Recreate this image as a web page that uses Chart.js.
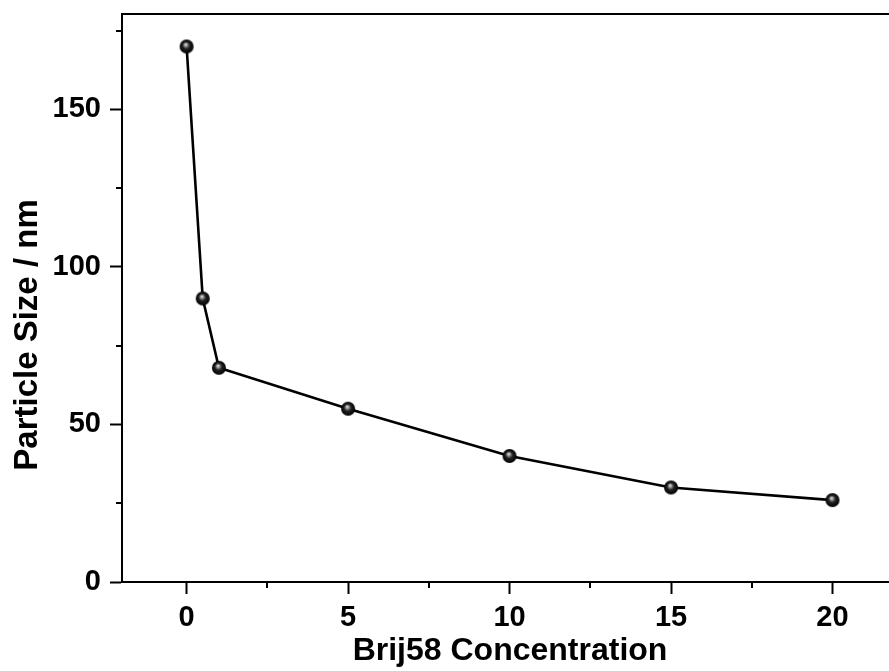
<!DOCTYPE html>
<html>
<head>
<meta charset="utf-8">
<script src="https://cdn.jsdelivr.net/npm/chart.js@4"></script>
<style>
  html, body { margin: 0; padding: 0; background: #fff; overflow: hidden; }
  #wrap { width: 889px; height: 671px; }
</style>
</head>
<body>
<div id="wrap"><canvas id="sizeChart" width="889" height="671"></canvas></div>
<script>
// Data
const concentration = [0, 0.5, 1, 5, 10, 15, 20];
const particleSize = [170, 90, 68, 55, 40, 30, 26];

// Axis ticks
const xMajorTicks = [0, 5, 10, 15, 20];
const xMinorTicks = [2.5, 7.5, 12.5, 17.5];
const yMajorTicks = [0, 50, 100, 150];
const yMinorTicks = [25, 75, 125, 175];

const xTitle = 'Brij58 Concentration';
const yTitle = 'Particle Size / nm';

const FONT = '"Liberation Sans", Arial, sans-serif';

// Shaded sphere used as the point marker
function makeSphere(r) {
    const c = document.createElement('canvas');
    const s = Math.ceil(r * 2 + 2);
    c.width = s;
    c.height = s;
    const g = c.getContext('2d');
    const cx = s / 2, cy = s / 2;
    const grad = g.createRadialGradient(cx - 1, cy - 2.2, 0, cx, cy, r);
    grad.addColorStop(0, '#f6f6f6');
    grad.addColorStop(0.2, '#a0a0a0');
    grad.addColorStop(0.5, '#222');
    grad.addColorStop(1, '#000');
    g.beginPath();
    g.arc(cx, cy, r, 0, Math.PI * 2);
    g.fillStyle = grad;
    g.fill();
    return c;
}

// Minor ticks, top frame line and axis titles
const framePlugin = {
    id: 'frame',
    afterDraw(chart) {
        const ctx = chart.ctx;
        const area = chart.chartArea;
        const xs = chart.scales.x;
        const ys = chart.scales.y;
        ctx.save();
        ctx.strokeStyle = '#000';
        ctx.lineWidth = 2;
        ctx.beginPath();
        ctx.moveTo(area.left - 1, area.top);
        ctx.lineTo(area.right, area.top);
        xMinorTicks.forEach(v => {
            const px = Math.round(xs.getPixelForValue(v));
            ctx.moveTo(px, area.bottom);
            ctx.lineTo(px, area.bottom + 6);
        });
        yMinorTicks.forEach(v => {
            const py = Math.round(ys.getPixelForValue(v));
            ctx.moveTo(area.left, py);
            ctx.lineTo(area.left - 6, py);
        });
        ctx.stroke();

        ctx.fillStyle = '#000';
        ctx.textAlign = 'center';
        ctx.textBaseline = 'middle';
        ctx.font = 'bold 32px ' + FONT;
        ctx.fillText(xTitle, 510, 651);
        ctx.font = 'bold 33px ' + FONT;
        ctx.translate(28, 335);
        ctx.rotate(-Math.PI / 2);
        ctx.fillText(yTitle, 0, 0);
        ctx.restore();
    }
};

const axisStyle = {
    border: { display: true, color: '#000', width: 2 },
    grid: {
        drawOnChartArea: false,
        drawTicks: true,
        tickLength: 12,
        tickWidth: 2,
        tickColor: '#000'
    },
    ticks: {
        color: '#000',
        font: { family: FONT, size: 29, weight: 'bold' }
    }
};

new Chart(document.getElementById('sizeChart').getContext('2d'), {
    type: 'scatter',
    data: {
        datasets: [{
            data: concentration.map((x, i) => ({ x: x, y: particleSize[i] })),
            showLine: true,
            borderColor: '#000',
            borderWidth: 2.6,
            pointStyle: makeSphere(7),
            pointRadius: 7,
            pointHoverRadius: 7
        }]
    },
    options: {
        responsive: false,
        animation: false,
        layout: { autoPadding: false, padding: { top: 14, right: 0, left: 0, bottom: 0 } },
        scales: {
            x: {
                type: 'linear',
                min: -2,
                max: 21.75,
                ...axisStyle,
                ticks: { ...axisStyle.ticks, padding: 7 },
                afterBuildTicks: s => { s.ticks = xMajorTicks.map(v => ({ value: v })); },
                afterFit: s => {
                    s.height = 89;
                    s.paddingLeft = 0;
                    s.paddingRight = 0;
                }
            },
            y: {
                type: 'linear',
                min: 0,
                max: 180.3,
                ...axisStyle,
                ticks: { ...axisStyle.ticks, padding: 9 },
                afterBuildTicks: s => { s.ticks = yMajorTicks.map(v => ({ value: v })); },
                afterFit: s => {
                    s.width = 122;
                    s.paddingTop = 0;
                    s.paddingBottom = 0;
                }
            }
        },
        plugins: {
            legend: { display: false },
            tooltip: { enabled: false },
            title: { display: false }
        }
    },
    plugins: [framePlugin]
});
</script>
</body>
</html>
